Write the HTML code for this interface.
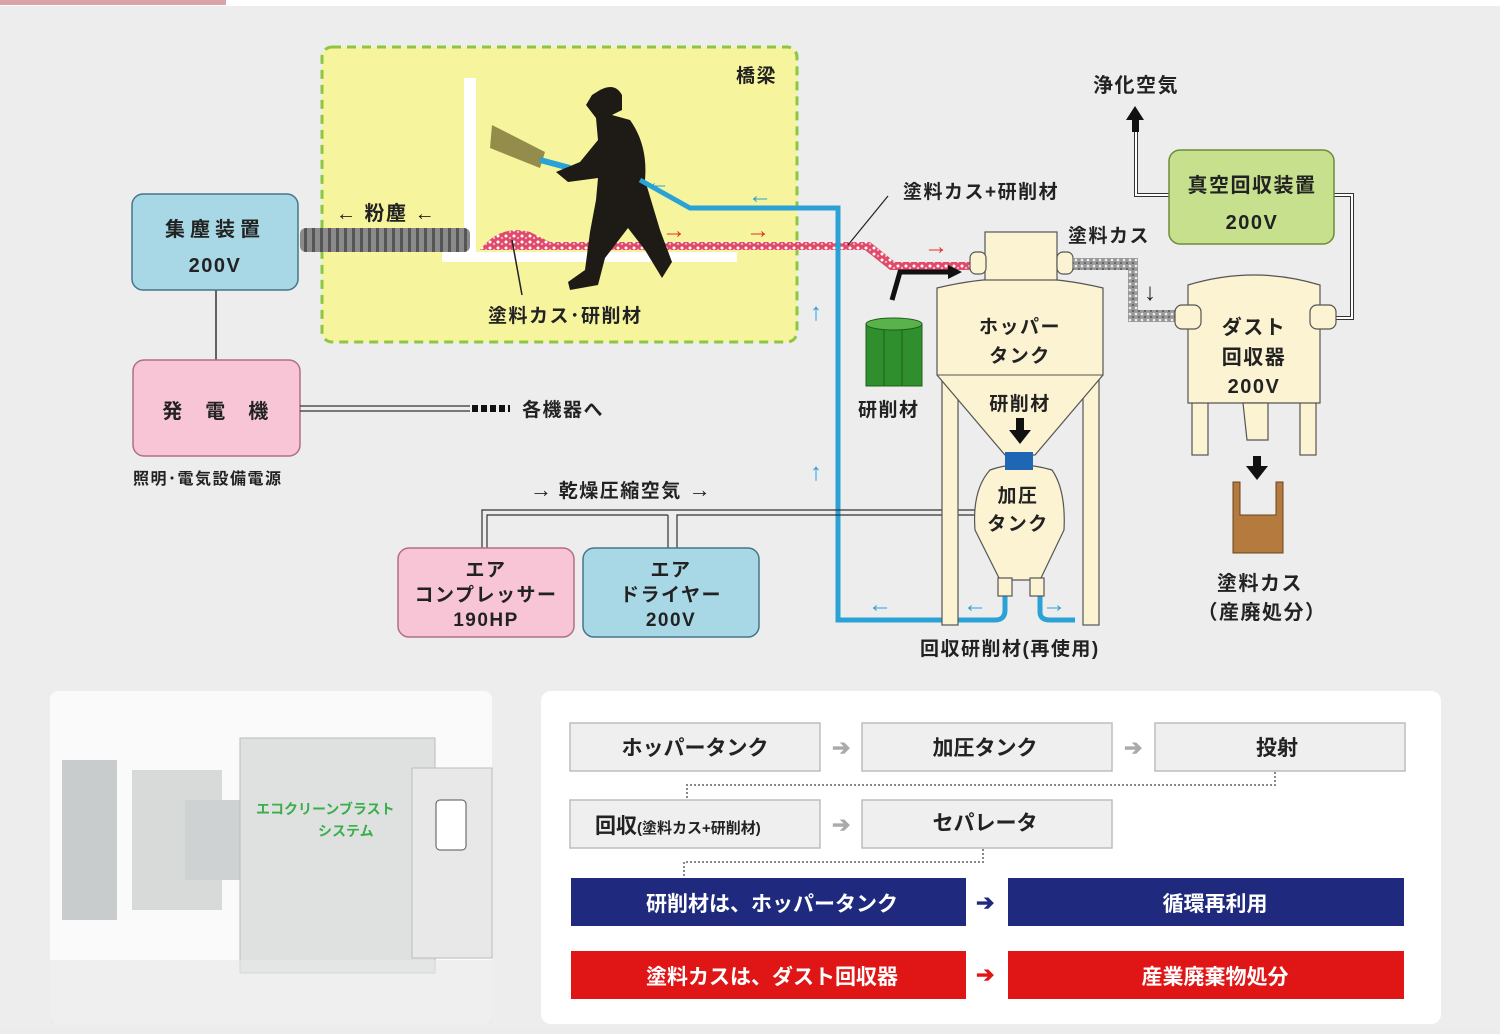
<!DOCTYPE html>
<html><head><meta charset="utf-8"><style>
body{margin:0;width:1500px;height:1029px;overflow:hidden;background:#ececec;font-family:"Liberation Sans","Noto Sans CJK JP",sans-serif}
svg text{font-family:"Liberation Sans","Noto Sans CJK JP",sans-serif;font-weight:bold;fill:#222;letter-spacing:1.5px}
.ar{font-weight:normal!important;letter-spacing:0}
.fp text{letter-spacing:0}
</style></head><body>
<svg width="1500" height="1029" viewBox="0 0 1500 1029" xmlns="http://www.w3.org/2000/svg">
<defs>
<pattern id="deb" width="8" height="6" patternUnits="userSpaceOnUse"><rect width="8" height="6" fill="#e04a6a"/><circle cx="2" cy="2" r="1.5" fill="#fff"/><circle cx="6" cy="4" r="1.2" fill="#f7b0c0"/></pattern>
<pattern id="gdeb" width="6" height="6" patternUnits="userSpaceOnUse"><rect width="6" height="6" fill="#999"/><circle cx="2" cy="2" r="1.3" fill="#eee"/><circle cx="5" cy="5" r="1" fill="#555"/></pattern>
<pattern id="hose" width="8" height="22" patternUnits="userSpaceOnUse"><rect width="8" height="22" fill="#8a8a8a"/><rect x="0" width="3" height="22" fill="#555"/></pattern>
</defs>
<rect width="1500" height="1029" fill="#ededed"/>
<rect x="0" y="0" width="1500" height="6" fill="#fff"/>
<rect x="0" y="0" width="226" height="5" fill="#d9a4a8"/>

<rect x="322" y="47" width="475" height="295" rx="10" fill="#f6f49c" stroke="#8dc63f" stroke-width="3" stroke-dasharray="9,6"/>
<text x="736" y="82" font-size="19">橋梁</text>
<rect x="464" y="78" width="12" height="184" fill="#fff"/>
<rect x="442" y="252" width="295" height="10" fill="#fff"/>
<rect x="300" y="228" width="170" height="24" rx="6" fill="url(#hose)"/>
<text x="336" y="220" font-size="20">← 粉塵 ←</text>
<path d="M480,250 Q500,224 530,232 L550,242 L870,242 L895,262 L970,262 L970,270 L890,270 L865,250 L480,250z" fill="url(#deb)"/>
<path d="M512,240 L522,295" stroke="#222" stroke-width="1.5"/>
<text x="488" y="322" font-size="19">塗料カス･研削材</text>
<path d="M492,125 L545,152 L540,168 L490,148z" fill="#6b5f2a" opacity=".7"/>
<path d="M540,160 L570,168" stroke="#2aa2d6" stroke-width="6"/>
<path d="M600,90 Q615,82 622,95 L622,110 L612,115 L630,120 Q648,145 645,180 L660,230 L672,262 L662,278 L645,250 L628,228 L605,258 L598,285 L570,290 L568,282 L585,270 L590,232 L596,200 L598,178 L568,182 L556,172 L580,162 L598,140 L596,118 L586,105 L592,95z" fill="#1e1a16"/>
<path d="M640,180 L690,208 L838,208 L838,620 L950,620" fill="none" stroke="#2aa2d6" stroke-width="5"/>
<path d="M1005,590 L1005,610 Q1005,620 995,620 L950,620 M1040,590 L1040,612 Q1040,620 1050,620 L1075,620" fill="none" stroke="#2aa2d6" stroke-width="5"/>
<g font-size="24"><text class="ar" x="646" y="190" style="fill:#2aa2d6">←</text><text class="ar" x="748" y="203" style="fill:#2aa2d6">←</text><text class="ar" x="810" y="320" style="fill:#2aa2d6">↑</text><text class="ar" x="810" y="480" style="fill:#2aa2d6">↑</text><text class="ar" x="868" y="612" style="fill:#2aa2d6">←</text><text class="ar" x="963" y="612" style="fill:#2aa2d6">←</text><text class="ar" x="1042" y="612" style="fill:#2aa2d6">→</text></g>
<g font-size="24"><text class="ar" x="662" y="238" style="fill:#e8302a">→</text><text class="ar" x="746" y="238" style="fill:#e8302a">→</text><text class="ar" x="924" y="254" style="fill:#e8302a">→</text></g>

<line x1="216" y1="290" x2="216" y2="360" stroke="#333" stroke-width="1.5"/>
<rect x="132" y="194" width="166" height="96" rx="11" fill="#a8d8e6" stroke="#44768c" stroke-width="1.5"/>
<text x="215" y="236" font-size="20" text-anchor="middle" style="letter-spacing:5px">集塵装置</text>
<text x="215" y="272" font-size="20" text-anchor="middle">200V</text>
<rect x="133" y="360" width="167" height="96" rx="11" fill="#f7c5d6" stroke="#b0707f" stroke-width="1.5"/>
<text x="216" y="418" font-size="20" text-anchor="middle">発　電　機</text>
<text x="133" y="484" font-size="16">照明･電気設備電源</text>
<path d="M300,406 H470 M300,411 H470" stroke="#333" stroke-width="1.2"/>
<path d="M472,408.5 H510" stroke="#111" stroke-width="7" stroke-dasharray="6,3"/>
<text x="522" y="416" font-size="19">各機器へ</text>

<text x="530" y="497" font-size="19"><tspan class="ar" font-size="22">→</tspan> 乾燥圧縮空気 <tspan class="ar" font-size="22">→</tspan></text>
<path d="M482,548 V510 H975 M487,548 V515 H668 M677,548 V515 H975 M668,515 V548" fill="none" stroke="#333" stroke-width="1.2"/>
<rect x="398" y="548" width="176" height="89" rx="11" fill="#f7c5d6" stroke="#b0707f" stroke-width="1.5"/>
<g font-size="19" text-anchor="middle"><text x="486" y="576">エア</text><text x="486" y="601">コンプレッサー</text><text x="486" y="626">190HP</text></g>
<rect x="583" y="548" width="176" height="89" rx="11" fill="#a8d8e6" stroke="#44768c" stroke-width="1.5"/>
<g font-size="19" text-anchor="middle"><text x="671" y="576">エア</text><text x="671" y="601">ドライヤー</text><text x="671" y="626">200V</text></g>

<line x1="848" y1="245" x2="888" y2="196" stroke="#222" stroke-width="1.2"/>
<text x="903" y="198" font-size="19">塗料カス+研削材</text>
<g fill="#fcf3d2" stroke="#555" stroke-width="1.2">
<rect x="942" y="360" width="16" height="265"/><rect x="1083" y="360" width="16" height="265"/>
<path d="M937,288 Q1020,268 1103,288 V375 L1035,455 H1005 L937,375z"/>
<rect x="985" y="232" width="72" height="48"/>
<rect x="970" y="252" width="16" height="22" rx="6"/><rect x="1057" y="252" width="16" height="22" rx="6"/>
<path d="M990,470 Q1018,460 1052,470 Q1066,490 1064,530 L1040,580 H1000 L975,530 Q972,490 990,470z"/>
<rect x="998" y="578" width="14" height="18"/><rect x="1030" y="578" width="14" height="18"/>
</g>
<line x1="937" y1="375" x2="1103" y2="375" stroke="#555"/>
<rect x="1005" y="452" width="28" height="18" fill="#1f67b4"/>
<path d="M892,300 L900,272 H950" fill="none" stroke="#111" stroke-width="5"/>
<path d="M948,265 L962,272 L948,279z" fill="#111"/>
<g fill="#2f8f2c" stroke="#1e5e1c" stroke-width="1">
<rect x="866" y="324" width="20" height="62"/><rect x="884" y="324" width="20" height="62"/><rect x="902" y="324" width="20" height="62"/>
<ellipse cx="894" cy="324" rx="28" ry="6" fill="#5ab24a"/></g>
<text x="858" y="416" font-size="19">研削材</text>
<g font-size="19" text-anchor="middle"><text x="1020" y="333">ホッパー</text><text x="1020" y="362">タンク</text><text x="1020" y="410">研削材</text><text x="1018" y="502">加圧</text><text x="1018" y="530">タンク</text></g>
<rect x="1016" y="418" width="8" height="14" fill="#111"/><path d="M1009,430 L1031,430 L1020,444z" fill="#111"/>
<text x="920" y="655" font-size="19">回収研削材(再使用)</text>

<path d="M1073,258 H1138 V310 H1175 V322 H1128 V270 H1073z" fill="url(#gdeb)"/>
<text x="1068" y="242" font-size="19">塗料カス</text>
<text class="ar" x="1144" y="300" font-size="24">↓</text>
<path d="M1136,130 V195 H1169 M1334,195 H1352 V318 H1336" fill="none" stroke="#333" stroke-width="4"/>
<path d="M1136,130 V195 H1169 M1334,195 H1352 V318 H1336" fill="none" stroke="#fff" stroke-width="2"/>
<rect x="1132" y="118" width="7" height="14" fill="#111"/><path d="M1126,120 L1144,120 L1135,106z" fill="#111"/>
<text x="1093" y="92" font-size="20">浄化空気</text>
<rect x="1169" y="150" width="165" height="94" rx="11" fill="#c6e08e" stroke="#6c8c3a" stroke-width="1.5"/>
<text x="1252" y="192" font-size="20" text-anchor="middle">真空回収装置</text>
<text x="1252" y="229" font-size="20" text-anchor="middle">200V</text>
<g fill="#fcf3d2" stroke="#555" stroke-width="1.2">
<rect x="1192" y="390" width="16" height="65"/><rect x="1300" y="390" width="16" height="65"/>
<path d="M1188,285 Q1254,265 1320,285 V403 H1188z"/>
<rect x="1175" y="305" width="26" height="24" rx="7"/><rect x="1310" y="305" width="26" height="24" rx="7"/>
<path d="M1243,403 H1268 V440 H1247z"/>
</g>
<g font-size="20" text-anchor="middle"><text x="1254" y="334">ダスト</text><text x="1254" y="364">回収器</text><text x="1254" y="393">200V</text></g>
<rect x="1253" y="456" width="8" height="12" fill="#111"/><path d="M1246,466 L1268,466 L1257,480z" fill="#111"/>
<path d="M1233,482 H1240 V515 H1276 V482 H1283 V553 H1233z" fill="#b47a3e" stroke="#6a4320"/>
<g font-size="20" text-anchor="middle"><text x="1260" y="590">塗料カス</text><text x="1262" y="619">（産廃処分）</text></g>

<rect x="50" y="691" width="442" height="333" rx="8" fill="#fafafa"/>
<rect x="62" y="760" width="55" height="160" fill="#c9cccc"/>
<rect x="132" y="770" width="90" height="140" fill="#d8dada"/>
<rect x="185" y="800" width="60" height="80" fill="#cfd2d2"/>
<rect x="240" y="738" width="195" height="235" fill="#dfe1e1" stroke="#bbb"/>
<rect x="412" y="768" width="80" height="190" fill="#e8e8e8" stroke="#bbb"/>
<rect x="436" y="800" width="30" height="50" rx="4" fill="#fff" stroke="#555"/>
<rect x="50" y="960" width="442" height="64" fill="#e8e8e8" opacity=".6"/>
<g class="fp"><text x="256" y="814" font-size="14" style="fill:#3aae4a">エコクリーンブラスト</text>
<text x="318" y="836" font-size="14" style="fill:#3aae4a">システム</text></g>

<g class="fp">
<rect x="541" y="691" width="900" height="333" rx="10" fill="#fff"/>
<g fill="#efefef" stroke="#bdbdbd" stroke-width="1.5">
<rect x="570" y="723" width="250" height="48"/><rect x="862" y="723" width="250" height="48"/><rect x="1155" y="723" width="250" height="48"/>
<rect x="570" y="800" width="250" height="48"/><rect x="862" y="800" width="250" height="48"/>
</g>
<g font-size="21" text-anchor="middle"><text x="695" y="755">ホッパータンク</text><text x="985" y="755">加圧タンク</text><text x="1277" y="755">投射</text><text x="985" y="830">セパレータ</text></g>
<text x="595" y="833" font-size="21">回収<tspan font-size="15">(塗料カス+研削材)</tspan></text>
<g font-size="22"><text x="832" y="755" style="fill:#aaa">➔</text><text x="1124" y="755" style="fill:#aaa">➔</text><text x="832" y="832" style="fill:#aaa">➔</text>
<text x="976" y="910" style="fill:#1f2a7e">➔</text><text x="976" y="982" style="fill:#e01515">➔</text></g>
<path d="M1275,772 V785 H687 V800 M983,849 V862 H684 V878" fill="none" stroke="#888" stroke-width="2" stroke-dasharray="2,2"/>
<rect x="571" y="878" width="395" height="48" fill="#1f2a7e"/><rect x="1008" y="878" width="396" height="48" fill="#1f2a7e"/>
<rect x="571" y="951" width="395" height="48" fill="#e01515"/><rect x="1008" y="951" width="396" height="48" fill="#e01515"/>
<g font-size="21" text-anchor="middle"><text x="772" y="911" style="fill:#fff">研削材は、ホッパータンク</text><text x="1215" y="911" style="fill:#fff">循環再利用</text><text x="772" y="984" style="fill:#fff">塗料カスは、ダスト回収器</text><text x="1215" y="984" style="fill:#fff">産業廃棄物処分</text></g>
</g>
</svg>
</body></html>
